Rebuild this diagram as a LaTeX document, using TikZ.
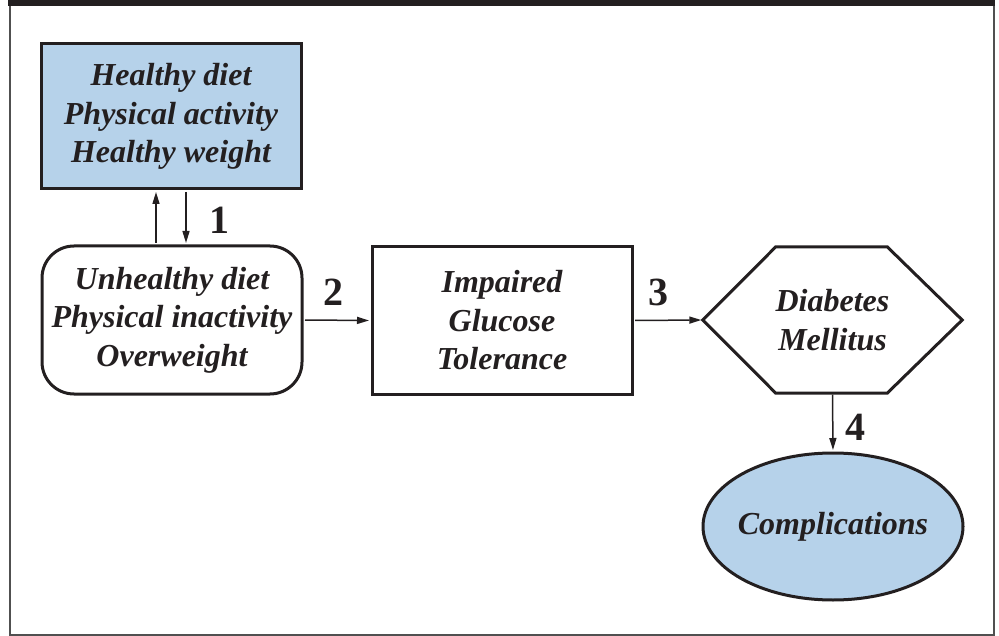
\documentclass[tikz,border=0pt]{standalone}
\usepackage{fontspec}
\setmainfont{Liberation Serif}
\usetikzlibrary{shapes.geometric,arrows.meta,calc}
\definecolor{ink}{RGB}{35,31,32}
\definecolor{lblue}{RGB}{182,210,234}
\definecolor{framegray}{RGB}{80,80,80}
\begin{document}
\begin{tikzpicture}[x=1pt,y=-1pt,
  boxline/.style={draw=ink,line width=3pt},
  boxtext/.style={text=ink,align=center,font=\itshape\bfseries\fontsize{32}{38.5}\selectfont,inner sep=0pt},
  shapebox/.style={boxline,boxtext},
  arr/.style={draw=ink,line width=1.5pt,-{Triangle[length=12pt,width=7pt]},shorten >=1.5pt,shorten <=1.5pt},
  num/.style={text=ink,font=\bfseries\fontsize{40}{40}\selectfont,inner sep=0pt}]
\useasboundingbox (0,0) rectangle (999,636);
% frame
\fill[ink] (8,0) rectangle (995,6.5);
\draw[framegray,line width=2pt] (9.5,6) -- (9.5,634.8) -- (993.5,634.8) -- (993.5,6);
% nodes
\node[shapebox,fill=lblue,rectangle,minimum width=260pt,minimum height=145pt] (hb) at (171,116.5)
  {Healthy diet\\Physical activity\\Healthy weight};
\node[shapebox,rectangle,rounded corners=32pt,minimum width=260pt,minimum height=148pt] (ub) at (172,320)
  {Unhealthy diet\\Physical inactivity\\Overweight};
\node[shapebox,rectangle,minimum width=260pt,minimum height=147pt] (ig) at (502,320.5)
  {Impaired\\Glucose\\Tolerance};
\node[boxtext,rectangle,minimum width=259pt,minimum height=146pt] (dm) at (832.5,320)
  {Diabetes\\Mellitus};
\draw[boxline,line join=miter] (dm.west) -- ($(dm.north west)+(73,0)$) -- ($(dm.north east)+(-75,0)$)
  -- (dm.east) -- ($(dm.south east)+(-75,0)$) -- ($(dm.south west)+(73,0)$) -- cycle;
\node[boxline,ellipse,fill=lblue,inner sep=0pt,minimum width=260pt,minimum height=147pt] (co) at (833,526.5) {};
\node[boxtext] (cot) at (co.center) {Complications};
% connectors
\coordinate (ux) at (156,0);
\coordinate (dx) at (186,0);
\draw[arr] (ub.north -| ux) -- (hb.south -| ux);
\draw[arr] (hb.south -| dx) -- (ub.north -| dx);
\draw[arr] (ub.east) -- (ig.west);
\draw[arr] (ig.east) -- (dm.west);
\draw[arr] (dm.south) -- (co.north);
% labels
\node[num] (n1) at (219,220) {1};
\node[num] (n2) at (333,292) {2};
\node[num] (n3) at (658,292) {3};
\node[num] (n4) at (855,427) {4};
\end{tikzpicture}
\end{document}
